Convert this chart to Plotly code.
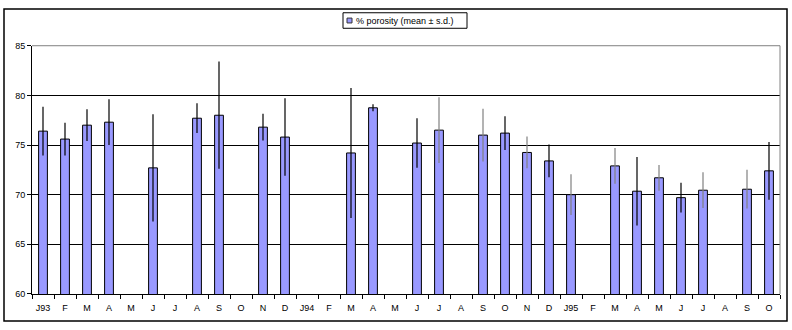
import plotly.graph_objects as go

months = ["J93", "F", "M", "A", "M", "J", "J", "A", "S", "O", "N", "D",
          "J94", "F", "M", "A", "M", "J", "J", "A", "S", "O", "N", "D",
          "J95", "F", "M", "A", "M", "J", "J", "A", "S", "O"]
porosity_mean = [76.4, 75.6, 77.0, 77.3, None, 72.7, None, 77.7, 78.0, None, 76.8, 75.8,
                 None, None, 74.2, 78.75, None, 75.2, 76.5, None, 76.0, 76.2, 74.25, 73.4,
                 70.0, None, 72.9, 70.35, 71.7, 69.7, 70.45, None, 70.55, 72.4]
porosity_sd = [2.45, 1.65, 1.6, 2.3, None, 5.4, None, 1.5, 5.4, None, 1.35, 3.9,
               None, None, 6.55, 0.35, None, 2.5, 3.3, None, 2.65, 1.7, 1.6, 1.65,
               2.05, None, 1.8, 3.45, 1.3, 1.5, 1.8, None, 1.95, 2.9]
series_name = "% porosity (mean ± s.d.)"
# indices whose error bars appear grey in the original
grey_err = {18, 20, 22, 24, 26, 28, 30, 32}

x = list(range(len(months)))
BAR = "#9999FF"

def subset(keep):
    xs, ys, es = [], [], []
    for i in x:
        if porosity_mean[i] is None:
            continue
        if keep(i):
            xs.append(i); ys.append(porosity_mean[i]); es.append(porosity_sd[i])
    return xs, ys, es

fig = go.Figure()
xb, yb, eb = subset(lambda i: i not in grey_err)
xg, yg, eg = subset(lambda i: i in grey_err)
fig.add_trace(go.Bar(x=xb, y=yb, width=0.4, name=series_name,
                     marker=dict(color=BAR, line=dict(color="black", width=1)),
                     error_y=dict(type="data", array=eb, color="black", thickness=1.2, width=0),
                     showlegend=False))
fig.add_trace(go.Bar(x=xg, y=yg, width=0.4, name=series_name,
                     marker=dict(color=BAR, line=dict(color="black", width=1)),
                     error_y=dict(type="data", array=eg, color="#808080", thickness=1.2, width=0),
                     showlegend=False))

H = 330.0
W = 792.0
x0, x1 = 32 / W, 780 / W
y0, y1 = 1 - 298 / H, 1 - 42 / H

fig.update_layout(
    width=792, height=330,
    margin=dict(l=0, r=0, t=0, b=0),
    paper_bgcolor="white", plot_bgcolor="white",
    barmode="overlay",
    font=dict(family="Liberation Sans, Arial, sans-serif", size=9, color="black"),
    xaxis=dict(domain=[x0, x1], range=[-0.5, len(months) - 0.5],
               tickmode="array", tickvals=x, ticktext=months, ticks="",
               showgrid=False, zeroline=False, showline=True, linecolor="black", linewidth=1,
               tickfont=dict(size=9), ticklabelstandoff=5,
               minor=dict(tickmode="linear", tick0=0.5, dtick=1, ticks="outside",
                          ticklen=4, tickcolor="black", showgrid=False)),
    yaxis=dict(domain=[y0, y1], range=[60, 85], dtick=5, tick0=60,
               ticks="outside", ticklen=4, tickcolor="black",
               showgrid=True, gridcolor="black", gridwidth=1,
               zeroline=False, showline=True, linecolor="black", linewidth=1,
               tickfont=dict(size=9)),
    bargap=0.6,
    showlegend=False,
)
# plot-area frame (top and right) in grey, outer chart border in black
fig.add_shape(type="line", xref="paper", yref="paper", x0=x0, x1=x1, y0=y1, y1=y1,
              line=dict(color="#808080", width=1))
fig.add_shape(type="line", xref="paper", yref="paper", x0=x1, x1=x1, y0=y0, y1=y1,
              line=dict(color="#808080", width=1))
fig.add_shape(type="rect", xref="paper", yref="paper",
              x0=4 / W, x1=787 / W, y0=1 - 326 / H, y1=1 - 4 / H,
              line=dict(color="black", width=1.5))
# legend box, drawn compactly as in the original
fig.add_shape(type="rect", xref="paper", yref="paper",
              x0=343 / W, x1=467 / W, y0=1 - 24 / H, y1=1 - 8 / H,
              line=dict(color="black", width=1), fillcolor="white", layer="above")
fig.add_shape(type="rect", xref="paper", yref="paper",
              x0=347 / W, x1=352 / W, y0=1 - 18.5 / H, y1=1 - 13.5 / H,
              line=dict(color="#333333", width=1), fillcolor=BAR, layer="above")
fig.add_annotation(xref="paper", yref="paper", x=354 / W, y=1 - 16 / H,
                   xanchor="left", yanchor="middle", showarrow=False,
                   text=series_name, font=dict(size=9, color="black"))

fig.write_html("out.html")
